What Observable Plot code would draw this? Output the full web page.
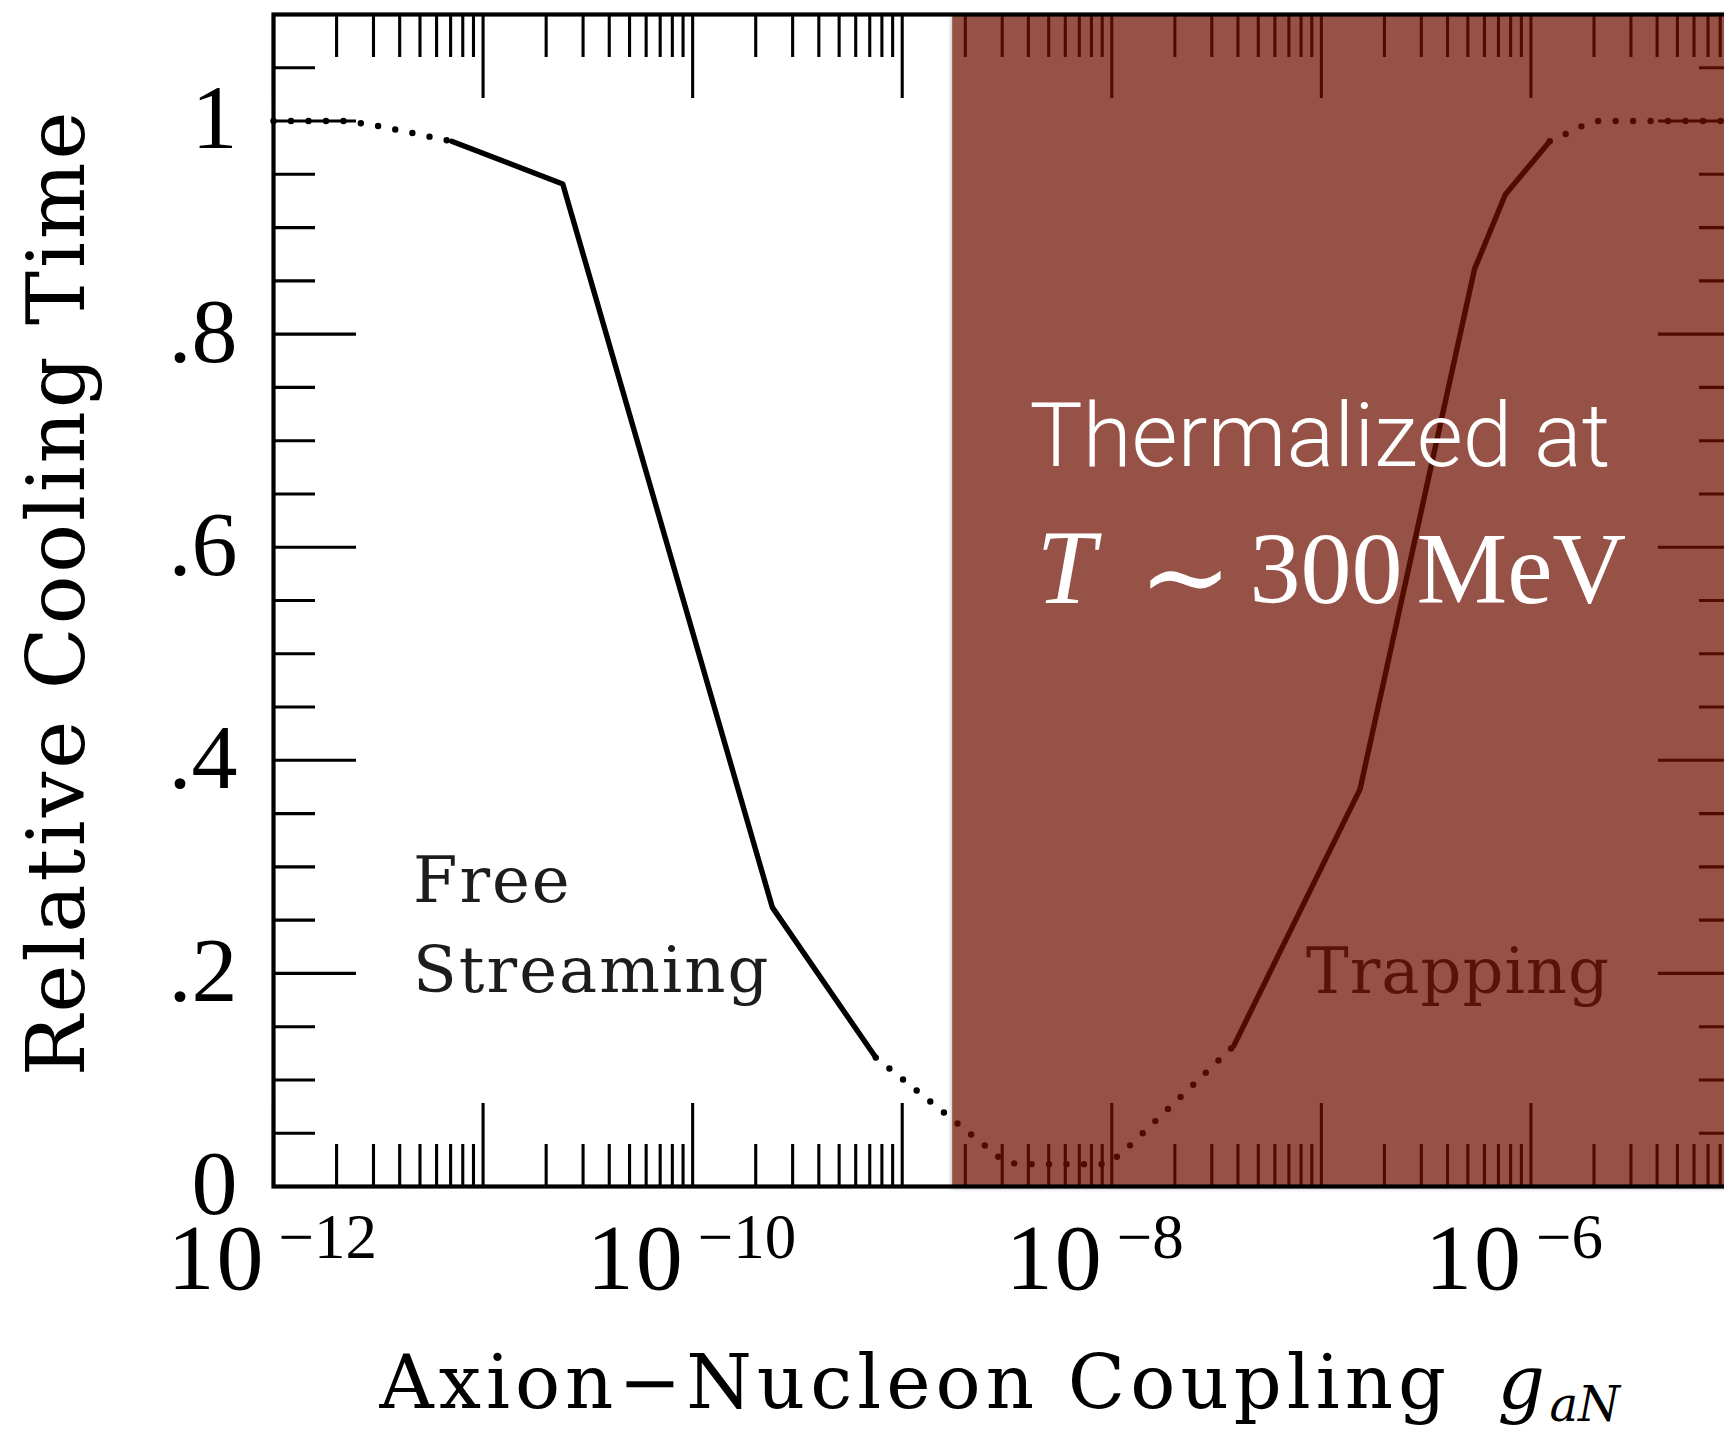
<!DOCTYPE html>
<html>
<head>
<meta charset="utf-8">
<script src="https://cdn.jsdelivr.net/npm/d3@7"></script>
<script src="https://cdn.jsdelivr.net/npm/@observablehq/plot@0.6"></script>
<style>
  html, body { margin: 0; padding: 0; background: #fff; overflow: hidden; width: 1724px; height: 1433px; }
  #chart { width: 1760px; }
  #chart svg { display: block; max-width: none !important; }
</style>
</head>
<body>
<div id="chart"></div>
<script>
// Relative cooling time of a supernova core versus the axion–nucleon coupling g_aN.
// Dotted pieces are the extrapolated ends of the computed curve.
const tailLeftG  = [1e-12, 2.24e-12, 3.24e-12, 4.79e-12, 7.08e-12];
const tailLeftT  = [1.0, 1.0, 0.995, 0.988, 0.981];

const freeStreamingG = [7.08e-12, 2.40e-11, 2.40e-10, 7.48e-10];
const freeStreamingT = [0.981, 0.941, 0.262, 0.121];

const minimumG = [7.48e-10, 2.19e-9, 2.57e-9, 2.95e-9, 3.51e-9, 9.33e-9, 1.10e-8, 3.82e-8];
const minimumT = [0.121, 0.047, 0.036, 0.026, 0.021, 0.021, 0.030, 0.132];

const trappingG = [3.82e-8, 1.53e-7, 5.38e-7, 7.55e-7, 1.23e-6];
const trappingT = [0.132, 0.373, 0.861, 0.931, 0.981];

const tailRightG = [1.23e-6, 1.47e-6, 1.74e-6, 2.09e-6, 1e-5];
const tailRightT = [0.981, 0.988, 0.995, 1.0, 1.0];

// couplings for which axions are thermalized at T ~ 300 MeV
const thermalizedRange = [1.74e-9, 1e-5];

// axis ticks and labels
const xMajorTicks = [1e-12, 1e-11, 1e-10, 1e-9, 1e-8, 1e-7, 1e-6, 1e-5];
const xMinorMultipliers = [2, 3, 4, 5, 6, 7, 8, 9];
const xLabelExponents = [-12, -10, -8, -6];
const yMajorTicks = [0, 0.2, 0.4, 0.6, 0.8, 1.0];
const yTickLabels = ["0", ".2", ".4", ".6", ".8", "1"];
const yMinorTicks = [0.05, 0.1, 0.15, 0.25, 0.3, 0.35, 0.45, 0.5, 0.55, 0.65, 0.7, 0.75, 0.85, 0.9, 0.95, 1.05];

const xMinorTicks = xMajorTicks.slice(0, -1).flatMap(d => xMinorMultipliers.map(m => m * d));
const zip = (g, t) => g.map((v, i) => ({g: v, t: t[i]}));

const solid = {x: "g", y: "t", stroke: "#000", strokeWidth: 5.4, strokeLinejoin: "round"};
const dotted = {x: "g", y: "t", stroke: "#000", strokeWidth: 6.4, strokeLinecap: "round", strokeDasharray: "0 17.5"};
const tick = {stroke: "#000", strokeWidth: 3.1, text: null, label: null};
const majorLen = -83, minorLen = -42;

const serif = "DejaVu Serif";
const roman = "Liberation Serif";

const chart = Plot.plot({
  width: 1760,
  height: 1433,
  marginLeft: 273,
  marginRight: 20,
  marginTop: 14,
  marginBottom: 247,
  style: {background: "#fff", overflow: "visible"},
  x: {type: "log", domain: [1e-12, 1e-5]},
  y: {domain: [0, 1.1]},
  marks: [
    // inward ticks on all four sides
    Plot.axisX(xMajorTicks, {anchor: "bottom", tickSize: majorLen, ...tick}),
    Plot.axisX(xMinorTicks, {anchor: "bottom", tickSize: minorLen, ...tick}),
    Plot.axisX(xMajorTicks, {anchor: "top", tickSize: majorLen, ...tick}),
    Plot.axisX(xMinorTicks, {anchor: "top", tickSize: minorLen, ...tick}),
    Plot.axisY(yMajorTicks, {anchor: "left", tickSize: majorLen, ...tick}),
    Plot.axisY(yMinorTicks, {anchor: "left", tickSize: minorLen, ...tick}),
    Plot.axisY(yMajorTicks, {anchor: "right", tickSize: majorLen, ...tick}),
    Plot.axisY(yMinorTicks, {anchor: "right", tickSize: minorLen, ...tick}),

    // cooling-time curve
    Plot.line(zip(tailLeftG, tailLeftT), dotted),
    Plot.line(zip(freeStreamingG, freeStreamingT), solid),
    Plot.line(zip(minimumG, minimumT), dotted),
    Plot.line(zip(trappingG, trappingT), solid),
    Plot.line(zip(tailRightG, tailRightT), dotted),

    // regime labels
    Plot.text(["Free\nStreaming"], {text: d => d, x: 4.63e-12, y: 0.1824, textAnchor: "start", lineAnchor: "bottom",
      lineHeight: 1.41, fontFamily: serif, fontSize: 64, fill: "#1c1c1c"}),
    Plot.text(["Trapping"], {text: d => d, x: 8.45e-8, y: 0.182, textAnchor: "start", lineAnchor: "bottom",
      fontFamily: serif, fontSize: 64, fill: "#1c1c1c"}),

    // thermalized band
    Plot.rect([thermalizedRange], {x1: d => d[0], x2: d => d[1], y1: 0, y2: 1.1,
      fill: "rgb(110,12,4)", fillOpacity: 0.725}),

    Plot.frame({stroke: "#000", strokeWidth: 4.2}),

    // tick labels
    Plot.text(yMajorTicks, {y: d => d, text: (d, i) => yTickLabels[i], frameAnchor: "left", dx: -36, dy: -2,
      textAnchor: "end", fontFamily: roman, fontSize: 92, fill: "#000"}),
    Plot.text(xLabelExponents, {x: e => Math.pow(10, e), text: () => "10", frameAnchor: "bottom", dx: -8, dy: 102,
      textAnchor: "end", lineAnchor: "bottom", fontFamily: roman, fontSize: 94, fill: "#000"}),
    Plot.text(xLabelExponents, {x: e => Math.pow(10, e), text: e => "\u2212" + Math.abs(e), frameAnchor: "bottom", dx: 5, dy: 71,
      textAnchor: "start", lineAnchor: "bottom", fontFamily: roman, fontSize: 63, fill: "#000"}),

    // axis titles
    Plot.text(["Axion\u2212Nucleon Coupling"], {text: d => d, frameAnchor: "bottom-left", dx: 106, dy: 221,
      textAnchor: "start", lineAnchor: "bottom", fontFamily: serif, fontSize: 75, fill: "#000"}),
    Plot.text(["g"], {text: d => d, frameAnchor: "bottom-left", dx: 1224, dy: 221,
      textAnchor: "start", lineAnchor: "bottom", fontFamily: serif, fontStyle: "italic", fontSize: 74, fill: "#000"}),
    Plot.text(["aN"], {text: d => d, frameAnchor: "bottom-left", dx: 1276, dy: 234,
      textAnchor: "start", lineAnchor: "bottom", fontFamily: serif, fontStyle: "italic", fontSize: 48, fill: "#000"}),
    Plot.text(["Relative Cooling Time"], {text: d => d, frameAnchor: "left", dx: -190, dy: -8, rotate: -90,
      textAnchor: "middle", lineAnchor: "bottom", fontFamily: serif, fontSize: 81, fill: "#000"}),

    // annotation inside the band
    Plot.text(["Thermalized at"], {text: d => d, x: 4.05e-9, y: 0.676, textAnchor: "start", lineAnchor: "bottom",
      fontFamily: "Roboto", fontWeight: 300, fontSize: 89, fill: "#fff"}),
    Plot.text(["T"], {text: d => d, x: 4.67e-9, y: 0.548, dx: -6, textAnchor: "start", lineAnchor: "bottom",
      fontFamily: roman, fontStyle: "italic", fontSize: 106, fill: "#fff"}),
    Plot.text(["\u223C"], {text: d => d, x: 4.67e-9, y: 0.548, dx: 96, dy: 12, textAnchor: "start", lineAnchor: "bottom",
      fontFamily: serif, fontSize: 112, fill: "#fff"}),
    Plot.text(["300"], {text: d => d, x: 4.67e-9, y: 0.548, dx: 207, textAnchor: "start", lineAnchor: "bottom",
      fontFamily: roman, fontSize: 102, fill: "#fff"}),
    Plot.text(["MeV"], {text: d => d, x: 4.67e-9, y: 0.548, dx: 374, textAnchor: "start", lineAnchor: "bottom",
      fontFamily: roman, fontSize: 102, fill: "#fff"})
  ]
});

document.getElementById("chart").append(chart);

const svg = d3.select(chart);
const spacing = {
  "Axion\u2212Nucleon Coupling": "5px",
  "Relative Cooling Time": "2.9px",
  "Trapping": "1px",
  "10": "2px"
};
svg.selectAll("text").each(function () {
  const s = spacing[this.textContent];
  if (s) d3.select(this).style("letter-spacing", s);
});
// multi-line labels are split into tspans by Plot
svg.selectAll("tspan").filter(function () { return this.textContent === "Streaming" || this.textContent === "Free"; })
  .style("letter-spacing", "2px");

// soft shadow that falls only outside the translucent band
const defs = svg.insert("defs", ":first-child");
const f = defs.append("filter").attr("id", "band-shadow")
  .attr("x", "-3%").attr("y", "-3%").attr("width", "106%").attr("height", "106%");
f.append("feComponentTransfer").attr("in", "SourceAlpha").attr("result", "solid")
  .append("feFuncA").attr("type", "discrete").attr("tableValues", "0 1");
f.append("feGaussianBlur").attr("in", "solid").attr("stdDeviation", 2.2).attr("result", "blur");
f.append("feOffset").attr("in", "blur").attr("dy", 1.5).attr("result", "off");
f.append("feComposite").attr("in", "off").attr("in2", "solid").attr("operator", "out").attr("result", "outer");
f.append("feComponentTransfer").attr("in", "outer").attr("result", "shadow")
  .append("feFuncA").attr("type", "linear").attr("slope", 0.35);
const merge = f.append("feMerge");
merge.append("feMergeNode").attr("in", "shadow");
merge.append("feMergeNode").attr("in", "SourceGraphic");
svg.selectAll('g[aria-label="rect"] rect').attr("filter", "url(#band-shadow)");
</script>
</body>
</html>
